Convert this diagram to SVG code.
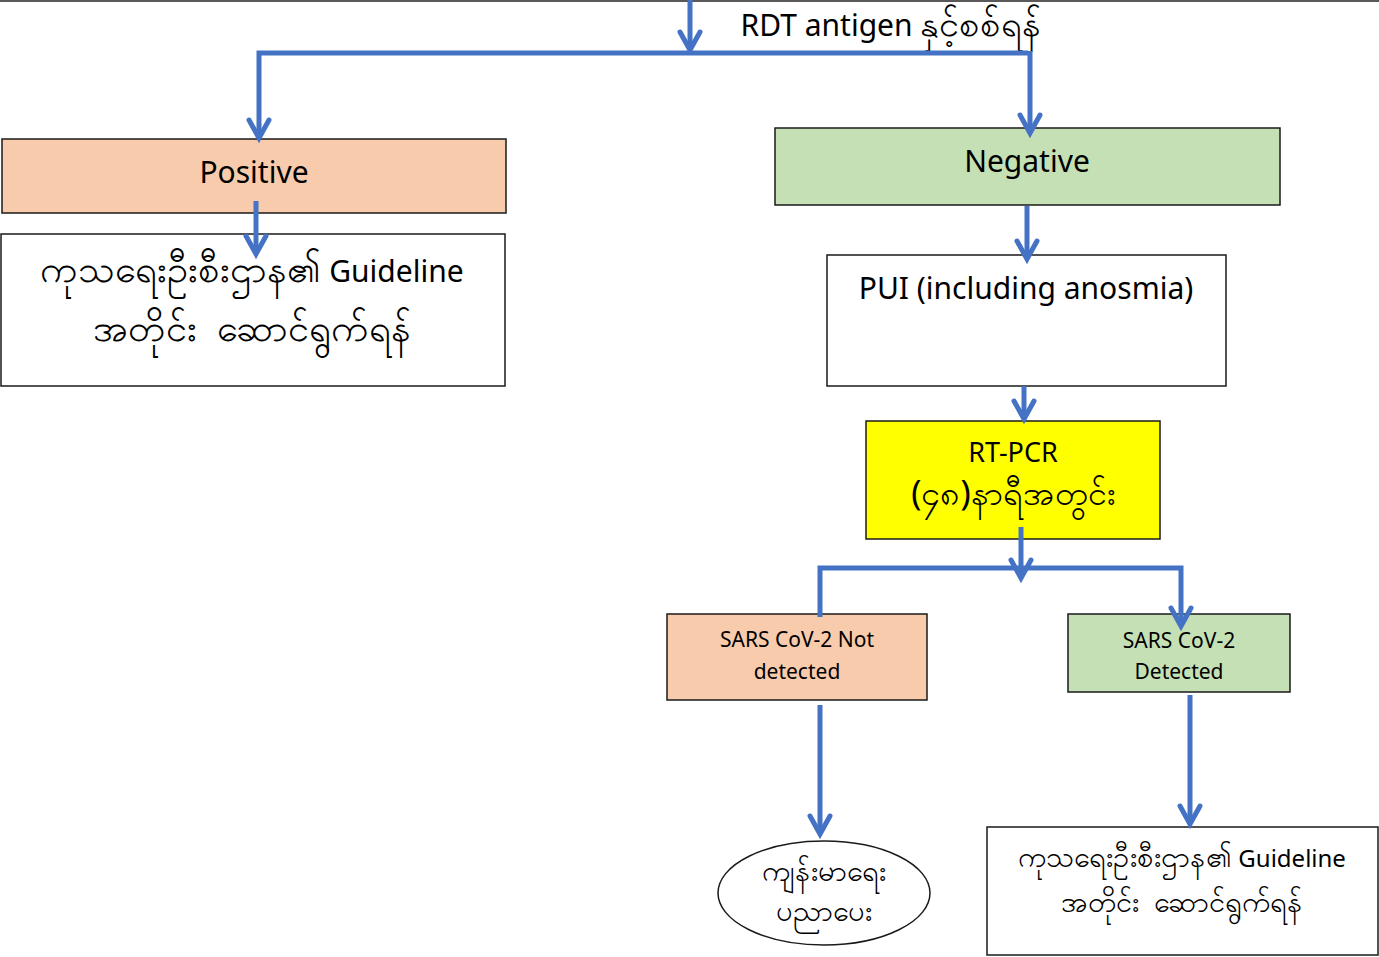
<svg xmlns="http://www.w3.org/2000/svg" width="1379" height="957" viewBox="0 0 1379 957">
<defs>
<style>
.box{stroke:#1a1a1a;stroke-width:1.5}
.pink{fill:#F8CBAD}
.green{fill:#C5E0B4}
.white{fill:#FFFFFF}
.yellow{fill:#FFFF00}
.t{font-family:"Noto Sans","Open Sans","Liberation Sans",sans-serif;fill:#000;text-anchor:middle;white-space:pre}
.c{fill:none;stroke:#4472C4;stroke-width:5}
</style>
<marker id="ah" viewBox="0 0 24 24" refX="21" refY="12" markerWidth="24" markerHeight="24" markerUnits="userSpaceOnUse" orient="auto" overflow="visible">
<path d="M3,2 L21,12 L3,22" fill="none" stroke="#4472C4" stroke-width="5" stroke-linecap="round"/>
</marker>
</defs>
<rect width="1379" height="957" fill="#FFFFFF"/>
<line x1="0" y1="1" x2="1379" y2="1" stroke="#222" stroke-width="1.5"/>
<g id="title"><text class="t" x="891" y="36" font-size="30">RDT antigen <tspan font-size="36">နှင့်စစ်ရန်</tspan></text></g>
<g id="positive"><rect class="box pink" x="2" y="139" width="504" height="74"/><text class="t" x="254" y="183" font-size="30">Positive</text></g>
<g id="guideline1"><rect class="box white" x="1" y="234" width="504" height="152"/>
<text class="t" x="252" y="282" font-size="30"><tspan font-size="38">ကုသရေးဦးစီးဌာန၏</tspan> Guideline</text>
<text class="t" x="252" y="341" font-size="38">အတိုင်း  ဆောင်ရွက်ရန်</text></g>
<g id="negative"><rect class="box green" x="775" y="128" width="505" height="77"/><text class="t" x="1027" y="172" font-size="30">Negative</text></g>
<g id="pui"><rect class="box white" x="827" y="255" width="399" height="131"/><text class="t" x="1026" y="299" font-size="30">PUI (including anosmia)</text></g>
<g id="rtpcr"><rect class="box yellow" x="866" y="421" width="294" height="118"/>
<text class="t" x="1013" y="462" font-size="27">RT-PCR</text>
<text class="t" x="1013" y="505" font-size="34">(၄၈)နာရီအတွင်း</text></g>
<g id="notdetected"><rect class="box pink" x="667" y="614" width="260" height="86"/>
<text class="t" x="797" y="647" font-size="21">SARS CoV-2 Not</text>
<text class="t" x="797" y="679" font-size="21">detected</text></g>
<g id="detected"><rect class="box green" x="1068" y="614" width="222" height="78"/>
<text class="t" x="1179" y="648" font-size="21">SARS CoV-2</text>
<text class="t" x="1179" y="679" font-size="21">Detected</text></g>
<g id="education"><ellipse cx="824" cy="893" rx="106" ry="52" fill="#FFFFFF" stroke="#1a1a1a" stroke-width="1.5"/>
<text class="t" x="824" y="881" font-size="29">ကျန်းမာရေး</text>
<text class="t" x="824" y="921" font-size="29">ပညာပေး</text></g>
<g id="guideline2"><rect class="box white" x="987" y="827" width="391" height="128"/>
<text class="t" x="1182" y="867" font-size="24"><tspan font-size="29">ကုသရေးဦးစီးဌာန၏</tspan> Guideline</text>
<text class="t" x="1182" y="912" font-size="29">အတိုင်း  ဆောင်ရွက်ရန်</text></g>
<g id="connectors">
<path class="c" d="M690,0 V50" marker-end="url(#ah)"/>
<path class="c" d="M1028,53 H259 V138" marker-end="url(#ah)"/>
<path class="c" d="M1030,51 V133" marker-end="url(#ah)"/>
<path class="c" d="M256,201 V254" marker-end="url(#ah)"/>
<path class="c" d="M1027,206 V259" marker-end="url(#ah)"/>
<path class="c" d="M1024,386 V419" marker-end="url(#ah)"/>
<path class="c" d="M1021,527 V578" marker-end="url(#ah)"/>
<path class="c" d="M820,617 V568 H1181 V626" marker-end="url(#ah)"/>
<path class="c" d="M820,705 V834" marker-end="url(#ah)"/>
<path class="c" d="M1190,695 V824" marker-end="url(#ah)"/>
</g>
</svg>
